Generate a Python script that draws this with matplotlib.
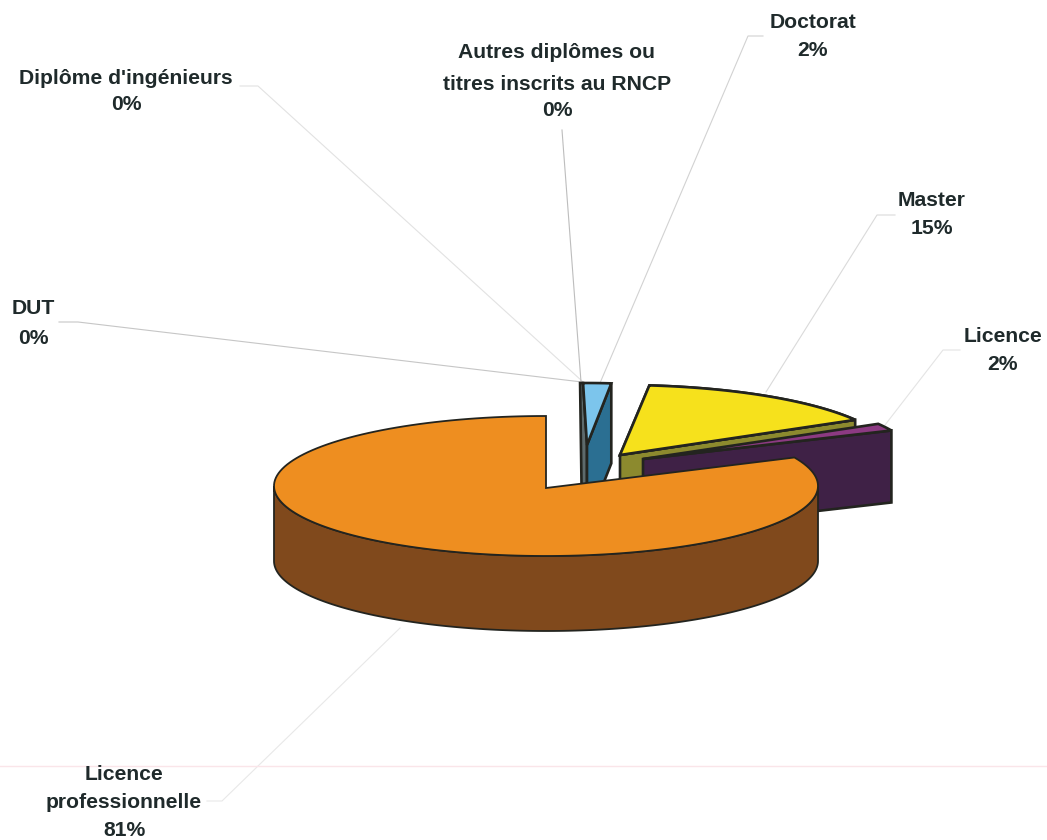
import numpy as np
import matplotlib
matplotlib.use("Agg")
import matplotlib.pyplot as plt

# ---- data (shares in %, display labels) ----
categories = ["Autres diplômes ou titres inscrits au RNCP", "Doctorat", "Master", "Licence",
              "Licence professionnelle", "DUT", "Diplôme d'ingénieurs"]
values = [0.0, 2.0, 14.9, 1.7, 81.4, 0.0, 0.0]
shown_percent = ["0%", "2%", "15%", "2%", "81%", "0%", "0%"]

# ---- style / geometry ----
W, H = 1047, 840
CX, CY, RX, RY = 546, 486, 272, 70
START_DEG = -1.0
EDGE = "#23241f"
TEXT = "#1f2a2b"

plt.rcParams["font.family"] = ["Liberation Sans", "DejaVu Sans"]
fig = plt.figure(figsize=(W / 100, H / 100), dpi=100)
ax = fig.add_axes([0, 0, 1, 1])
ax.set_xlim(0, W)
ax.set_ylim(H, 0)
ax.axis("off")

# wedge angles from the values
angles = START_DEG + np.cumsum([0.0] + values) * 3.6
span = {c: (angles[i], angles[i + 1]) for i, c in enumerate(categories)}


def rim(a0, a1, cx, cy, ry=RY, rx=RX, n=160):
    t = np.radians(np.linspace(a0, a1, n))
    return np.column_stack([cx + rx * np.sin(t), cy - ry * np.cos(t)])


def face(pts, fc, z, lw=1.9):
    ax.fill(pts[:, 0], pts[:, 1], facecolor=fc, edgecolor=EDGE, linewidth=lw, joinstyle="miter", zorder=z)


def exploded(name, ox, oy, depth, top, side, z, ry=RY, rx=RX):
    a0, a1 = span[name]
    tip = np.array([[CX + ox, CY + oy]])
    arc = rim(a0, a1, CX + ox, CY + oy, ry, rx)
    outer = arc[-1]
    d = np.array([0, depth])
    face(np.array([tip[0], outer, outer + d, tip[0] + d]), side, z)
    face(np.vstack([tip, arc]), top, z + 0.5)
    return tip[0], arc


# ---- leader lines ----
leaders = [
    ([(240, 86), (258, 86), (582, 381)], "#e2e2e2"),
    ([(59, 322), (78, 322), (582, 382)], "#c6c6c6"),
    ([(562, 130), (581, 382)], "#bdbdbd"),
    ([(763, 36), (748, 36), (600, 383)], "#d2d2d2"),
    ([(895, 215), (877, 215), (766, 392)], "#dadada"),
    ([(960, 350), (943, 350), (885, 425)], "#e4e4e4"),
    ([(207, 801), (222, 801), (400, 628)], "#e8e8e8"),
]
for pts, col in leaders:
    p = np.array(pts)
    ax.plot(p[:, 0], p[:, 1], color=col, lw=0.8, zorder=1)

# faint scanned rule across the page
ax.plot([0, W], [766, 766], color="#fae5e9", lw=1.0, zorder=1)

# ---- Doctorat (exploded, with a grey cut face on the left) ----
a0, a1 = span["Doctorat"]
doc_tip = np.array([CX + 41, CY - 41])
doc_arc = rim(a0, a1, *doc_tip, ry=62, rx=225)
grey = np.array([doc_arc[0] + (-3, 0), doc_arc[0], doc_tip, doc_tip + (0, 75), doc_tip + (-5, 75)])
face(grey, "#5d6a6c", 2)
exploded("Doctorat", 41, -41, 80, "#7cc5ec", "#2b6f92", 2.2, ry=62, rx=225)

# ---- Master and Licence (exploded) ----
exploded("Master", 74, -31, 75, "#f6e11c", "#8c8a2e", 3)
exploded("Licence", 97, -27, 72, "#8c3a82", "#3f2146", 3.6)
m0, m1 = span["Master"]
m_tip = np.array([[CX + 74, CY - 31]])
face(np.vstack([m_tip, rim(m0, m1, CX + 74, CY - 31)]), "#f6e11c", 4.2)

# ---- Licence professionnelle (main body) ----
DEPTH = 75
front = rim(90, 270, CX, CY)
face(np.vstack([front, (front + (0, DEPTH))[::-1]]), "#80491c", 5, lw=1.3)
a0 = span["Licence professionnelle"][0]
face(np.vstack([[[CX, CY + 2]], rim(a0, 360, CX, CY)]), "#ee8e20", 6, lw=1.3)

# ---- labels (one entry per line, centred) ----
pct = dict(zip(categories, shown_percent))
label_lines = [
    ("Diplôme d'ingénieurs", [("Diplôme d'ingénieurs", 126, 79)], (126, 104)),
    ("Autres diplômes ou titres inscrits au RNCP",
     [("Autres diplômes ou", 557, 52), ("titres inscrits au RNCP", 557, 84)], (557, 110)),
    ("Doctorat", [("Doctorat", 813, 22)], (813, 51)),
    ("Master", [("Master", 932, 201)], (932, 229)),
    ("Licence", [("Licence", 1003, 336)], (1003, 364)),
    ("DUT", [("DUT", 33, 309)], (33, 338)),
    ("Licence professionnelle", [("Licence", 124, 774), ("professionnelle", 124, 803)], (124, 831)),
]
for cat, lines, pos in label_lines:
    for s, x, y in lines:
        ax.text(x, y, s, ha="center", va="center", fontsize=15.2, fontweight="bold", color=TEXT, zorder=8)
    ax.text(pos[0], pos[1], pct[cat], ha="center", va="center", fontsize=15.2, fontweight="bold", color=TEXT, zorder=8)

fig.savefig("out.png", dpi=100, facecolor="white")
